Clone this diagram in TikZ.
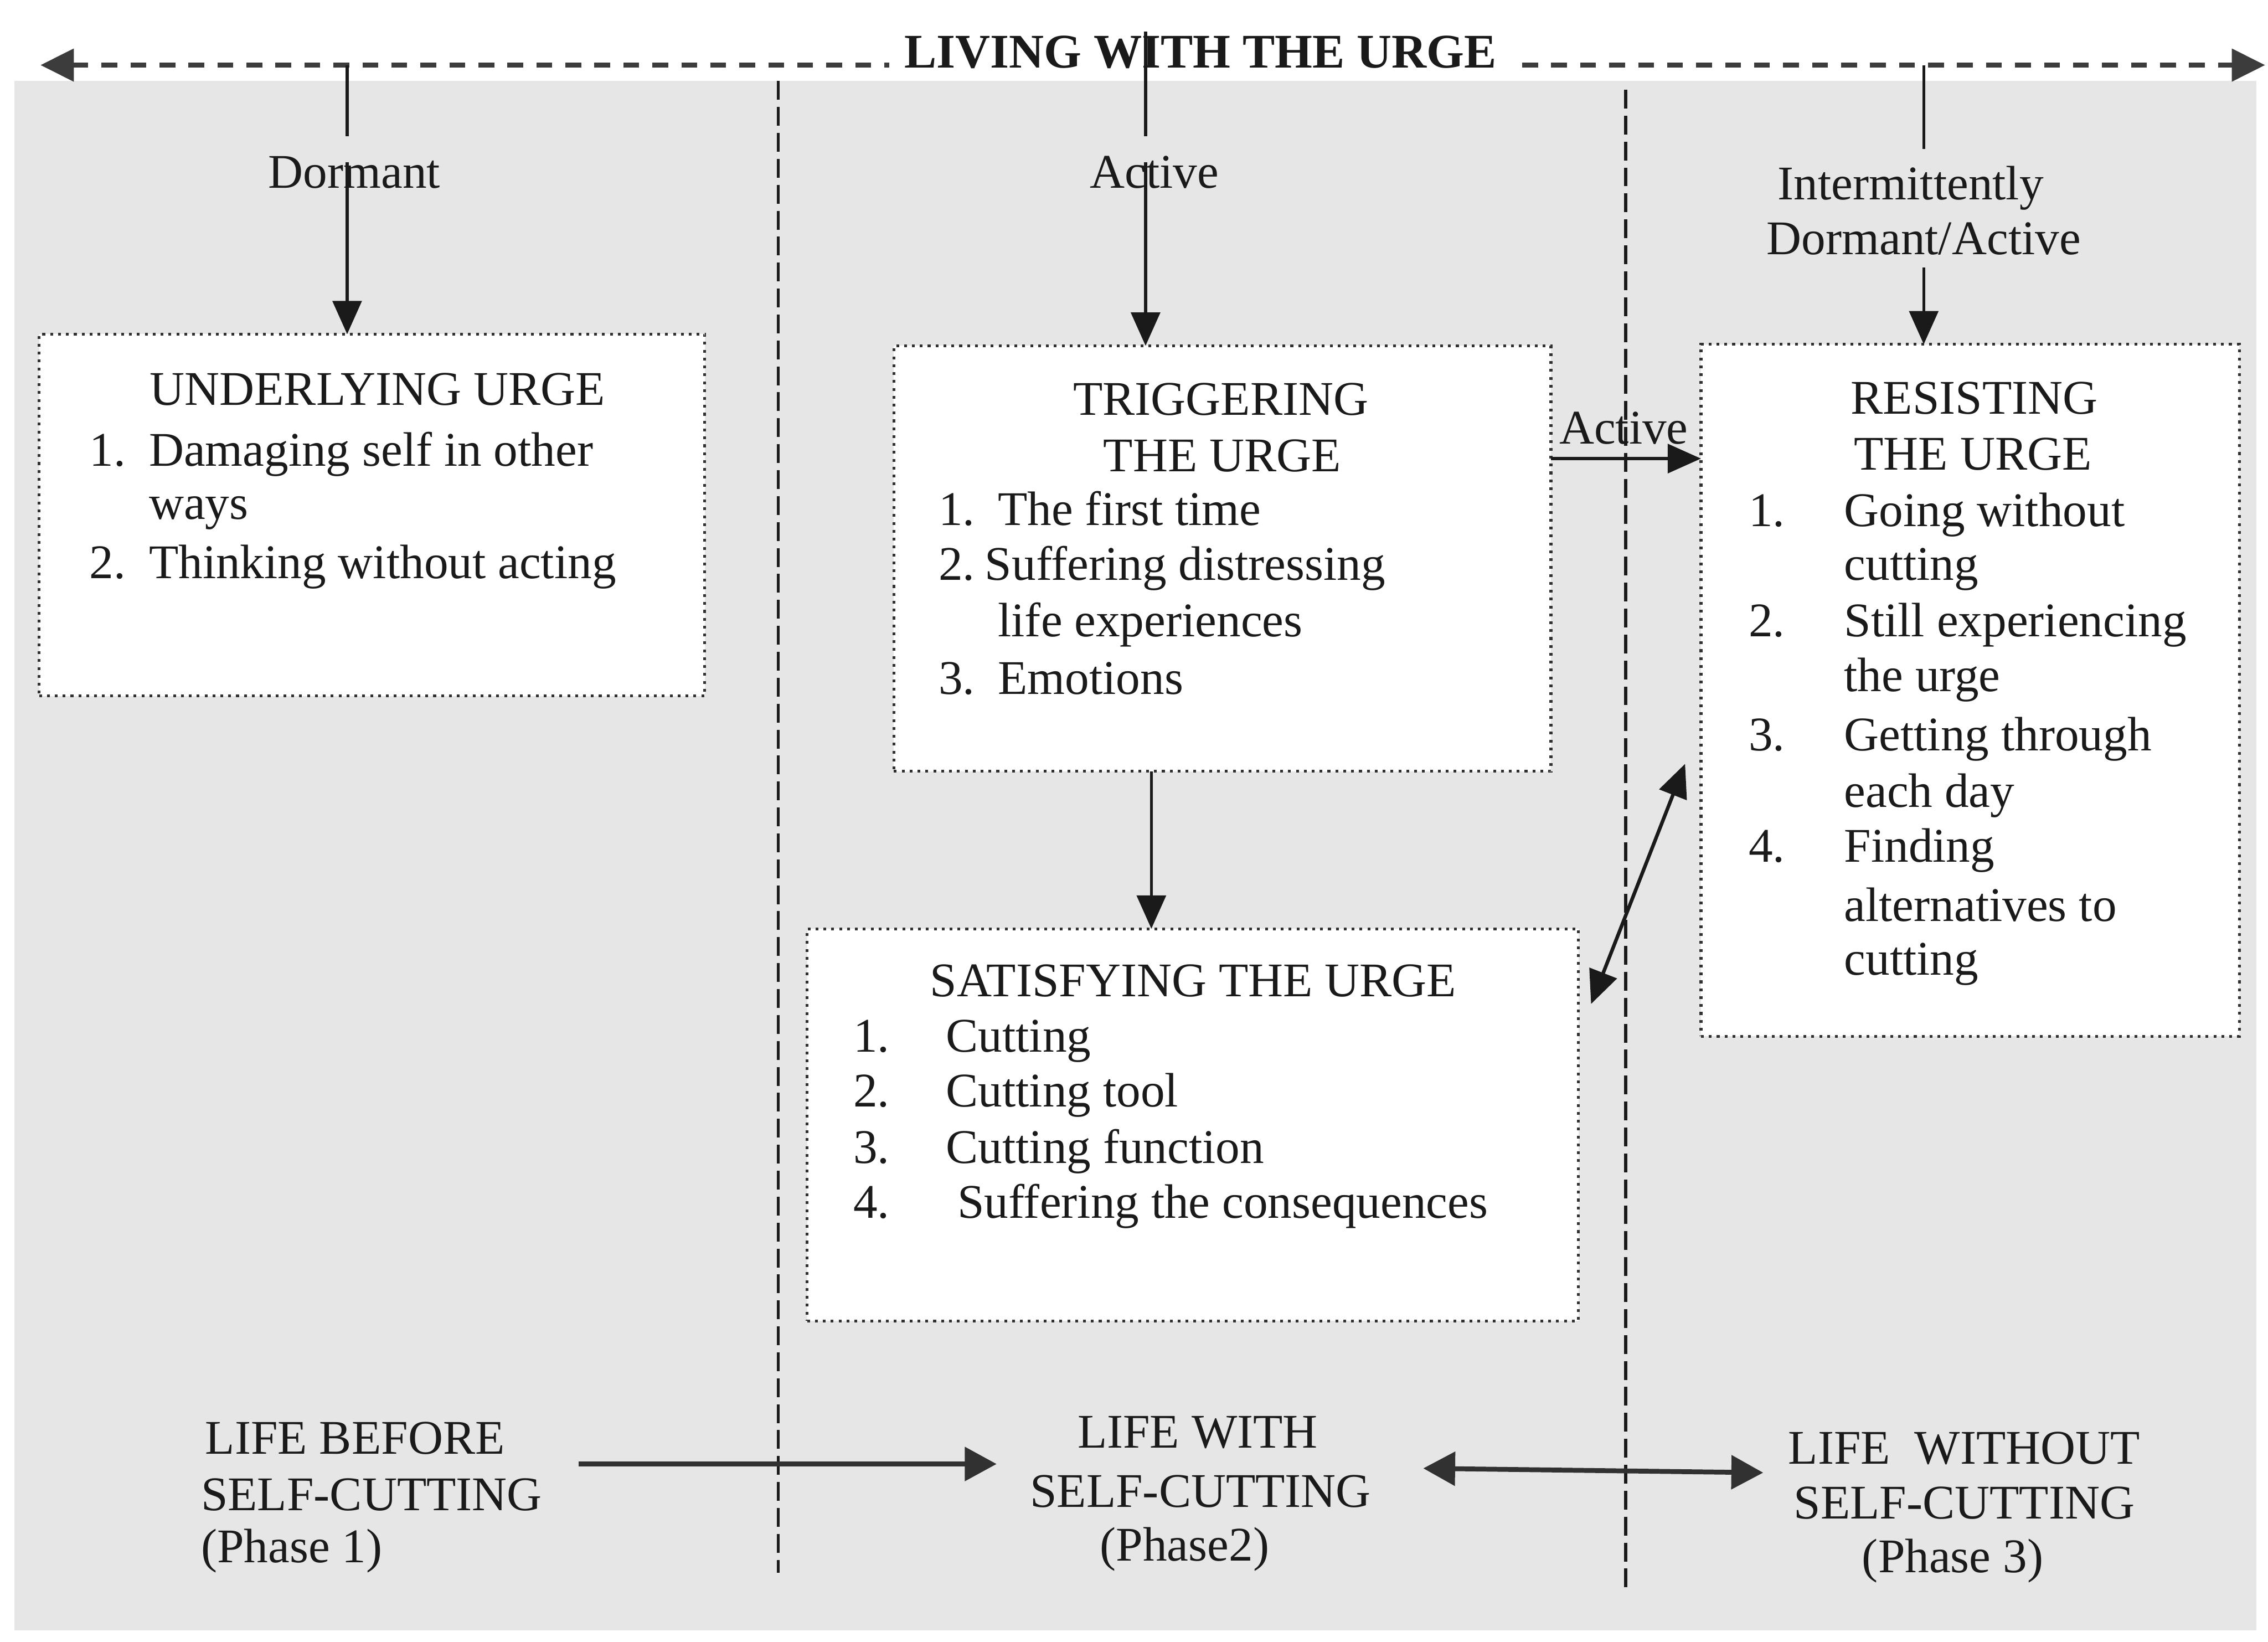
\documentclass[tikz,border=0pt]{standalone}
\usepackage{fontspec}
\setmainfont{Liberation Serif}
\usetikzlibrary{arrows.meta}
\definecolor{paper}{HTML}{E6E6E6}
\definecolor{ink}{HTML}{1A1A1A}
\newcommand\diagfont{\fontsize{9.5pt}{11pt}\selectfont}
\begin{document}
\begin{tikzpicture}[x=0.01cm, y=-0.01cm,
  every node/.style={inner sep=0pt, outer sep=0pt, text=ink, font=\diagfont},
  lw/.style={anchor=base west},
  lc/.style={anchor=base},
  urgebox/.style={draw=ink!90, densely dotted, line width=0.55pt, fill=white, anchor=north west},
  flow/.style={draw=ink, line width=0.6pt, -{Triangle[length=2.3mm,width=2mm]}},
  flowboth/.style={draw=ink, line width=0.7pt, {Triangle[length=2.3mm,width=2mm]}-{Triangle[length=2.3mm,width=2mm]}},
  stem/.style={draw=ink, line width=0.6pt},
  phasearrow/.style={draw=ink!90, line width=0.95pt, -{Triangle[length=2.2mm,width=2.3mm]}},
  phaseboth/.style={draw=ink!90, line width=0.95pt, {Triangle[length=2.2mm,width=2.3mm]}-{Triangle[length=2.2mm,width=2.3mm]}},
  divider/.style={draw=ink, line width=0.6pt, dash pattern=on 3.7pt off 1.4pt},
  timeline/.style={draw=ink!85, line width=1pt, dash pattern=on 3.1pt off 2.6pt,
    {Triangle[length=2.3mm,width=2.2mm]}-{Triangle[length=2.3mm,width=2.2mm]}},
]
% page and shaded field
\fill[white] (0,0) rectangle (1568,1134.7);
\useasboundingbox (0,0) rectangle (1568,1134.7);
\fill[paper] (10,56) rectangle (1560,1127);

% phase dividers
\coordinate (div1t) at (538,56);  \coordinate (div1b) at (538,1087);
\coordinate (div2t) at (1124,62); \coordinate (div2b) at (1124,1097);
\draw[divider] (div1t) -- (div1b);
\draw[divider] (div2t) -- (div2b);

% timeline across the top
\coordinate (tl) at (28,45);
\coordinate (tr) at (1566,45);
\draw[timeline] (tl) -- (tr);
\node[lc, fill=white, inner xsep=3pt, inner ysep=1.5pt, font=\diagfont\bfseries] (living) at (830,47) {LIVING WITH THE URGE};

% boxes
\node[urgebox, minimum width=4.60cm, minimum height=2.50cm] (ubox) at (27,231) {};
\node[urgebox, minimum width=4.54cm, minimum height=2.94cm] (tbox) at (618,239) {};
\node[urgebox, minimum width=3.72cm, minimum height=4.78cm] (rbox) at (1176,238) {};
\node[urgebox, minimum width=5.33cm, minimum height=2.71cm] (sbox) at (558,642) {};

% state labels under the timeline
\node[lc] (dormant) at (245,130) {Dormant};
\node[lc] (active) at (798,130) {Active};
\node[lc] (interm1) at (1321,138) {Intermittently};
\node[lc] (interm2) at (1330,176) {Dormant/Active};

% stems from the timeline into the boxes
\coordinate (dtop) at (240,45);  \coordinate (dgap) at (240,94);  \coordinate (dstart) at (240,112);
\coordinate (atop) at (792,22);  \coordinate (agap) at (792,94);  \coordinate (astart) at (792,112);
\coordinate (itop) at (1330,45); \coordinate (igap) at (1330,103); \coordinate (istart) at (1330,185);
\draw[stem] (dtop) -- (dgap);
\draw[flow] (dstart) -- (dstart |- ubox.north);
\draw[stem] (atop) -- (agap);
\draw[flow] (astart) -- (astart |- tbox.north);
\draw[stem] (itop) -- (igap);
\draw[flow] (istart) -- (istart |- rbox.north);

% UNDERLYING URGE
\node[lc] (u0) at (261,280) {UNDERLYING URGE};
\node[lw] (u1n) at (62,322) {1.};
\node[lw] (u1) at (103,322) {Damaging self in other};
\node[lw] (u1b) at (103,359) {ways};
\node[lw] (u2n) at (62,400) {2.};
\node[lw] (u2) at (103,400) {Thinking without acting};

% TRIGGERING THE URGE
\node[lc] (t0) at (844,287) {TRIGGERING};
\node[lc] (t0b) at (845,326) {THE URGE};
\node[lw] (t1n) at (649,363) {1.};
\node[lw] (t1) at (690,363) {The first time};
\node[lw] (t2n) at (649,401) {2.};
\node[lw] (t2) at (681,401) {Suffering distressing};
\node[lw] (t2b) at (690,440) {life experiences};
\node[lw] (t3n) at (649,480) {3.};
\node[lw] (t3) at (690,480) {Emotions};

% RESISTING THE URGE
\node[lc] (r0) at (1365,286) {RESISTING};
\node[lc] (r0b) at (1364,325) {THE URGE};
\node[lw] (r1n) at (1209,364) {1.};
\node[lw] (r1) at (1275,364) {Going without};
\node[lw] (r1b) at (1275,401) {cutting};
\node[lw] (r2n) at (1209,440) {2.};
\node[lw] (r2) at (1275,440) {Still experiencing};
\node[lw] (r2b) at (1275,478) {the urge};
\node[lw] (r3n) at (1209,519) {3.};
\node[lw] (r3) at (1275,519) {Getting through};
\node[lw] (r3b) at (1275,558) {each day};
\node[lw] (r4n) at (1209,596) {4.};
\node[lw] (r4) at (1275,596) {Finding};
\node[lw] (r4b) at (1275,637) {alternatives to};
\node[lw] (r4c) at (1275,674) {cutting};

% SATISFYING THE URGE
\node[lc] (s0) at (825,689) {SATISFYING THE URGE};
\node[lw] (s1n) at (590,727) {1.};
\node[lw] (s1) at (654,727) {Cutting};
\node[lw] (s2n) at (590,765) {2.};
\node[lw] (s2) at (654,765) {Cutting tool};
\node[lw] (s3n) at (590,804) {3.};
\node[lw] (s3) at (654,804) {Cutting function};
\node[lw] (s4n) at (590,842) {4.};
\node[lw] (s4) at (662,842) {Suffering the consequences};

% links between the boxes
\coordinate (ts) at (796,0);
\draw[flow] (ts |- tbox.south) -- (ts |- sbox.north);
\coordinate (act) at (0,317);
\draw[flow] (tbox.east |- act) -- (rbox.west |- act);
\node[lw] (activelink) at (1078,307) {Active};
\coordinate (sr) at (1100,694);
\coordinate (rs) at (1165,528);
\draw[flowboth] (sr) -- (rs);

% phases along the bottom
\node[lw] (p1a) at (142,1005) {LIFE BEFORE};
\node[lw] (p1b) at (139,1044) {SELF-CUTTING};
\node[lw] (p1c) at (139,1080) {(Phase 1)};
\node[lc] (p2a) at (828,1001) {LIFE WITH};
\node[lc] (p2b) at (830,1042) {SELF-CUTTING};
\node[lc] (p2c) at (819,1079) {(Phase2)};
\node[lc] (p3a) at (1358,1012) {LIFE\ \ WITHOUT};
\node[lc] (p3b) at (1358,1050) {SELF-CUTTING};
\node[lc] (p3c) at (1350,1087) {(Phase 3)};

\coordinate (ph12a) at (400,1012); \coordinate (ph12b) at (689,1012);
\coordinate (ph23a) at (984,1015); \coordinate (ph23b) at (1219,1018);
\draw[phasearrow] (ph12a) -- (ph12b);
\draw[phaseboth] (ph23a) -- (ph23b);
\end{tikzpicture}
\end{document}
